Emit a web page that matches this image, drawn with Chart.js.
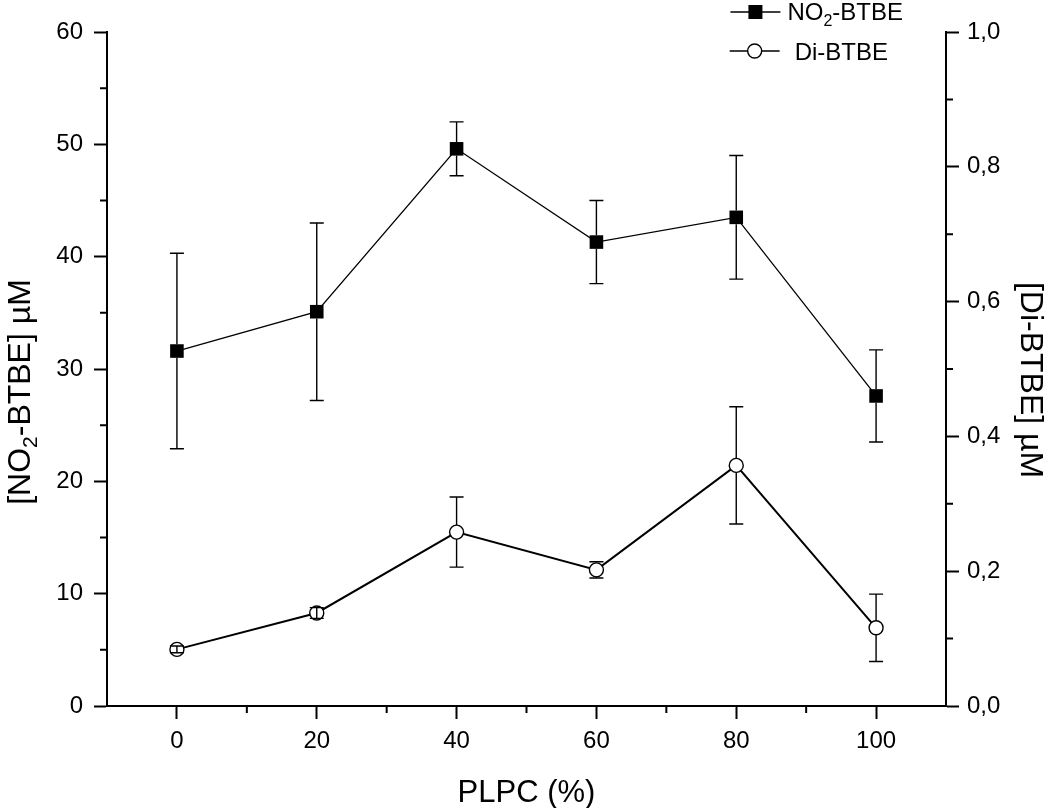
<!DOCTYPE html>
<html>
<head>
<meta charset="utf-8">
<script src="https://cdn.jsdelivr.net/npm/chart.js@4.4.1/dist/chart.umd.min.js"></script>
<style>
html,body{margin:0;padding:0;background:#fff;}
canvas{display:block;}
</style>
</head>
<body>
<canvas id="c" width="1050" height="808"></canvas>
<script>
// ---- data ----
const plpcPercent = [0, 20, 40, 60, 80, 100];
const no2Values = [31.6, 35.1, 49.6, 41.3, 43.5, 27.6];
const no2Errors = [8.7, 7.9, 2.4, 3.7, 5.5, 4.1];
const diValues = [0.084, 0.138, 0.258, 0.202, 0.357, 0.116];
const diErrors = [0.005, 0.008, 0.052, 0.012, 0.087, 0.050];
const xTickValues = [0, 20, 40, 60, 80, 100];
const xMinorTicks = [10, 30, 50, 70, 90];
const leftTickValues = [0, 10, 20, 30, 40, 50, 60];
const leftMinorTicks = [5, 15, 25, 35, 45, 55];
const rightTickValues = [0, 0.2, 0.4, 0.6, 0.8, 1.0];
const rightMinorTicks = [0.1, 0.3, 0.5, 0.7, 0.9];
const no2Label = 'NO₂-BTBE';
const diLabel = 'Di-BTBE';

const FONT = "'Liberation Sans', Arial, Helvetica, sans-serif";

const errorBars = {
  id: 'errorBars',
  afterDatasetsDraw(chart) {
    const ctx = chart.ctx;
    chart.data.datasets.forEach((ds, i) => {
      const meta = chart.getDatasetMeta(i);
      const yScale = chart.scales[ds.yAxisID];
      const half = ds.pointStyle === 'rect' ? ds.pointRadius * Math.SQRT1_2 : ds.pointRadius;
      ctx.save();
      ctx.strokeStyle = '#000';
      ctx.lineWidth = 1.4;
      meta.data.forEach((pt, j) => {
        const v = ds.data[j].y, e = ds.errors[j];
        const x = pt.x, y = pt.y;
        const yTop = yScale.getPixelForValue(v + e);
        const yBot = yScale.getPixelForValue(v - e);
        ctx.beginPath();
        if (y - yTop > half) {
          ctx.moveTo(x, y - half); ctx.lineTo(x, yTop);
          ctx.moveTo(x, y + half); ctx.lineTo(x, yBot);
        } else {
          ctx.moveTo(x, yTop); ctx.lineTo(x, yBot);
        }
        ctx.moveTo(x - 7, yTop); ctx.lineTo(x + 7, yTop);
        ctx.moveTo(x - 7, yBot); ctx.lineTo(x + 7, yBot);
        ctx.stroke();
      });
      ctx.restore();
    });
  }
};

const extras = {
  id: 'extras',
  afterDraw(chart) {
    const ctx = chart.ctx;
    const xs = chart.scales.x, yl = chart.scales.y, yr = chart.scales.y2;
    const area = chart.chartArea;
    ctx.save();
    ctx.strokeStyle = '#000';
    ctx.lineWidth = 2;
    // minor ticks
    ctx.beginPath();
    xMinorTicks.forEach(v => { const p = xs.getPixelForValue(v); ctx.moveTo(p, area.bottom); ctx.lineTo(p, area.bottom + 7); });
    leftMinorTicks.forEach(v => { const p = yl.getPixelForValue(v); ctx.moveTo(area.left, p); ctx.lineTo(area.left - 7, p); });
    rightMinorTicks.forEach(v => { const p = yr.getPixelForValue(v); ctx.moveTo(area.right, p); ctx.lineTo(area.right + 7, p); });
    ctx.stroke();

    ctx.fillStyle = '#000';
    // x title
    ctx.font = '31px ' + FONT;
    ctx.textAlign = 'center';
    ctx.textBaseline = 'alphabetic';
    ctx.fillText('PLPC (%)', (area.left + area.right) / 2, 802);

    const drawSubText = (parts, cx, cy, rot) => {
      ctx.save();
      ctx.translate(cx, cy);
      ctx.rotate(rot);
      ctx.textAlign = 'left';
      ctx.textBaseline = 'alphabetic';
      let total = 0;
      parts.forEach(p => { ctx.font = p.size + 'px ' + FONT; total += ctx.measureText(p.t).width; });
      let x = -total / 2;
      parts.forEach(p => {
        ctx.font = p.size + 'px ' + FONT;
        ctx.fillText(p.t, x, p.dy);
        x += ctx.measureText(p.t).width;
      });
      ctx.restore();
    };
    drawSubText([{t: '[NO', size: 32, dy: 11}, {t: '2', size: 21, dy: 18}, {t: '-BTBE] µM', size: 32, dy: 11}], 19, 392, -Math.PI / 2);
    drawSubText([{t: diLabel.replace(/^/, '[') + '] µM', size: 32, dy: 10}], 1031, 380, Math.PI / 2);

    // legend
    ctx.textAlign = 'left';
    ctx.font = '24px ' + FONT;
    const wNO = ctx.measureText('NO').width;
    const wDash = ctx.measureText('-BTBE').width;
    ctx.font = '16px ' + FONT;
    const w2 = ctx.measureText('2').width;
    const row1Start = 903 - (wNO + w2 + wDash);
    ctx.font = '24px ' + FONT;
    const row2Start = 888 - ctx.measureText(diLabel).width;
    const s1 = row1Start - 32, s2 = row2Start - 40;

    ctx.lineWidth = 1.4;
    ctx.beginPath();
    ctx.moveTo(s1 - 25, 12); ctx.lineTo(s1 + 25, 12);
    ctx.moveTo(s2 - 25, 51); ctx.lineTo(s2 + 25, 51);
    ctx.stroke();
    ctx.fillRect(s1 - 7, 5, 14, 14);
    ctx.beginPath();
    ctx.arc(s2, 51, 7, 0, Math.PI * 2);
    ctx.fillStyle = '#fff';
    ctx.fill();
    ctx.stroke();
    ctx.fillStyle = '#000';
    ctx.font = '24px ' + FONT;
    ctx.fillText('NO', row1Start, 20);
    ctx.font = '16px ' + FONT;
    ctx.fillText('2', row1Start + wNO, 26);
    ctx.font = '24px ' + FONT;
    ctx.fillText('-BTBE', row1Start + wNO + w2, 20);
    ctx.fillText(diLabel, row2Start, 60);
    ctx.restore();
  }
};

const commonGrid = {display: true, drawOnChartArea: false, drawTicks: true, tickLength: 13, tickWidth: 2, tickColor: '#000'};
const commonBorder = {display: true, color: '#000', width: 2};
const tickFont = {family: FONT, size: 24};

new Chart(document.getElementById('c'), {
  type: 'line',
  data: {
    datasets: [
      {
        label: no2Label,
        data: plpcPercent.map((x, i) => ({x, y: no2Values[i]})),
        errors: no2Errors,
        yAxisID: 'y',
        borderColor: '#000',
        borderWidth: 1.3,
        backgroundColor: '#000',
        pointStyle: 'rect',
        pointRadius: 9.6,
        pointBorderWidth: 0,
        pointBackgroundColor: '#000',
        tension: 0
      },
      {
        label: diLabel,
        data: plpcPercent.map((x, i) => ({x, y: diValues[i]})),
        errors: diErrors,
        yAxisID: 'y2',
        borderColor: '#000',
        borderWidth: 2,
        backgroundColor: '#fff',
        pointStyle: 'circle',
        pointRadius: 7,
        pointBorderWidth: 1.4,
        pointBackgroundColor: '#fff',
        pointBorderColor: '#000',
        tension: 0
      }
    ]
  },
  options: {
    responsive: false,
    animation: false,
    devicePixelRatio: 1,
    clip: false,
    layout: {padding: {top: 32, left: 0, right: 0, bottom: 0}},
    plugins: {legend: {display: false}, tooltip: {enabled: false}},
    scales: {
      x: {
        type: 'linear', position: 'bottom', min: -10, max: 110,
        grid: commonGrid, border: commonBorder,
        ticks: {font: tickFont, color: '#000', padding: 8, callback: v => String(v)},
        afterBuildTicks: s => { s.ticks = xTickValues.map(v => ({value: v})); },
        afterFit: s => { s.height = 102; }
      },
      y: {
        type: 'linear', position: 'left', min: 0, max: 60,
        grid: commonGrid, border: commonBorder,
        ticks: {font: tickFont, color: '#000', padding: 11, callback: v => String(v)},
        afterBuildTicks: s => { s.ticks = leftTickValues.map(v => ({value: v})); },
        afterFit: s => { s.width = 107; }
      },
      y2: {
        type: 'linear', position: 'right', min: 0, max: 1,
        grid: commonGrid, border: commonBorder,
        ticks: {font: tickFont, color: '#000', padding: 8, callback: v => v.toFixed(1).replace('.', ',')},
        afterBuildTicks: s => { s.ticks = rightTickValues.map(v => ({value: v})); },
        afterFit: s => { s.width = 104; }
      }
    }
  },
  plugins: [errorBars, extras]
});
</script>
</body>
</html>
